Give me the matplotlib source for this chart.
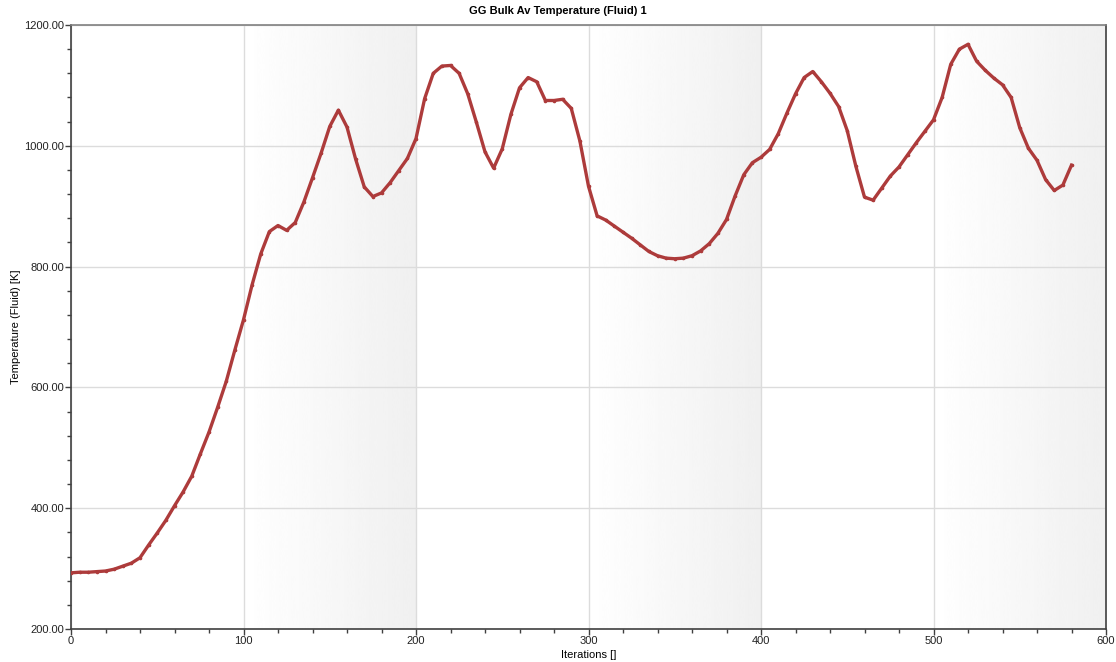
import matplotlib.pyplot as plt
import numpy as np
from matplotlib.ticker import MultipleLocator, FormatStrFormatter

plt.rcParams['font.family'] = ['Liberation Sans', 'DejaVu Sans']

# bulk average fluid temperature, sampled every 5 iterations
iterations = list(range(0, 581, 5))
temperature = [
    293, 294, 294, 295, 296, 299, 304, 309, 318, 339,
    359, 380, 404, 427, 453, 490, 526, 567, 610, 662,
    712, 770, 821, 858, 868, 860, 873, 907, 947, 988,
    1032, 1059, 1031, 978, 932, 916, 922, 939, 959, 979,
    1012, 1078, 1120, 1132, 1133, 1120, 1086, 1039, 990, 963,
    995, 1052, 1096, 1113, 1106, 1075, 1075, 1077, 1062, 1008,
    933, 884, 877, 867, 857, 847, 836, 825, 818, 814,
    813, 814, 818, 826, 838, 855, 878, 917, 952, 972,
    981, 994, 1020, 1054, 1086, 1113, 1123, 1106, 1087, 1065,
    1025, 966, 915, 910, 930, 950, 965, 985, 1005, 1024,
    1043, 1080, 1135, 1160, 1168, 1140, 1125, 1112, 1101, 1080,
    1030, 996, 976, 944, 926, 935, 968,
]
shaded_bands = [(100, 200), (300, 400), (500, 600)]

fig = plt.figure(figsize=(11.16, 6.62), dpi=100)
ax = fig.add_axes([71 / 1116, 33 / 662, 1035 / 1116, 604 / 662])

# white-to-grey gradient across every other 100-iteration band
grad = np.linspace(1.0, 0.94, 256).reshape(1, -1)
for x0, x1 in shaded_bands:
    ax.imshow(grad, cmap='gray', vmin=0, vmax=1, extent=(x0, x1, 200, 1200),
              aspect='auto', zorder=0, interpolation='bicubic')

ax.plot(iterations, temperature, color='#ad3b3b', lw=2.4, marker='o',
        ms=1.6, mec='#ad3b3b', zorder=3, solid_joinstyle='round')

ax.set_xlim(0, 600)
ax.set_ylim(200, 1200)
ax.xaxis.set_major_locator(MultipleLocator(100))
ax.xaxis.set_minor_locator(MultipleLocator(20))
ax.yaxis.set_major_locator(MultipleLocator(200))
ax.yaxis.set_minor_locator(MultipleLocator(40))
ax.yaxis.set_major_formatter(FormatStrFormatter('%.2f'))
ax.grid(True, which='major', color='#dcdcdc', lw=1, zorder=1)
ax.set_axisbelow(True)

ax.tick_params(which='major', direction='out', length=4, width=1,
               color='#404040', labelsize=8, labelcolor='#222222', pad=1)
ax.tick_params(which='minor', direction='out', length=3, width=1, color='#404040')
for side in ['left', 'bottom', 'right']:
    ax.spines[side].set_color('#404040')
    ax.spines[side].set_linewidth(1.2)
ax.spines['top'].set_color('#808080')
ax.spines['top'].set_linewidth(1.2)

ax.set_xlabel('Iterations []', fontsize=8, labelpad=3)
ax.set_ylabel('Temperature (Fluid) [K]', fontsize=8, labelpad=2)
fig.text(0.5, 1 - 11 / 662, 'GG Bulk Av Temperature (Fluid) 1', ha='center',
         va='center', fontsize=8, fontweight='bold')

fig.savefig('out.png', dpi=100)
